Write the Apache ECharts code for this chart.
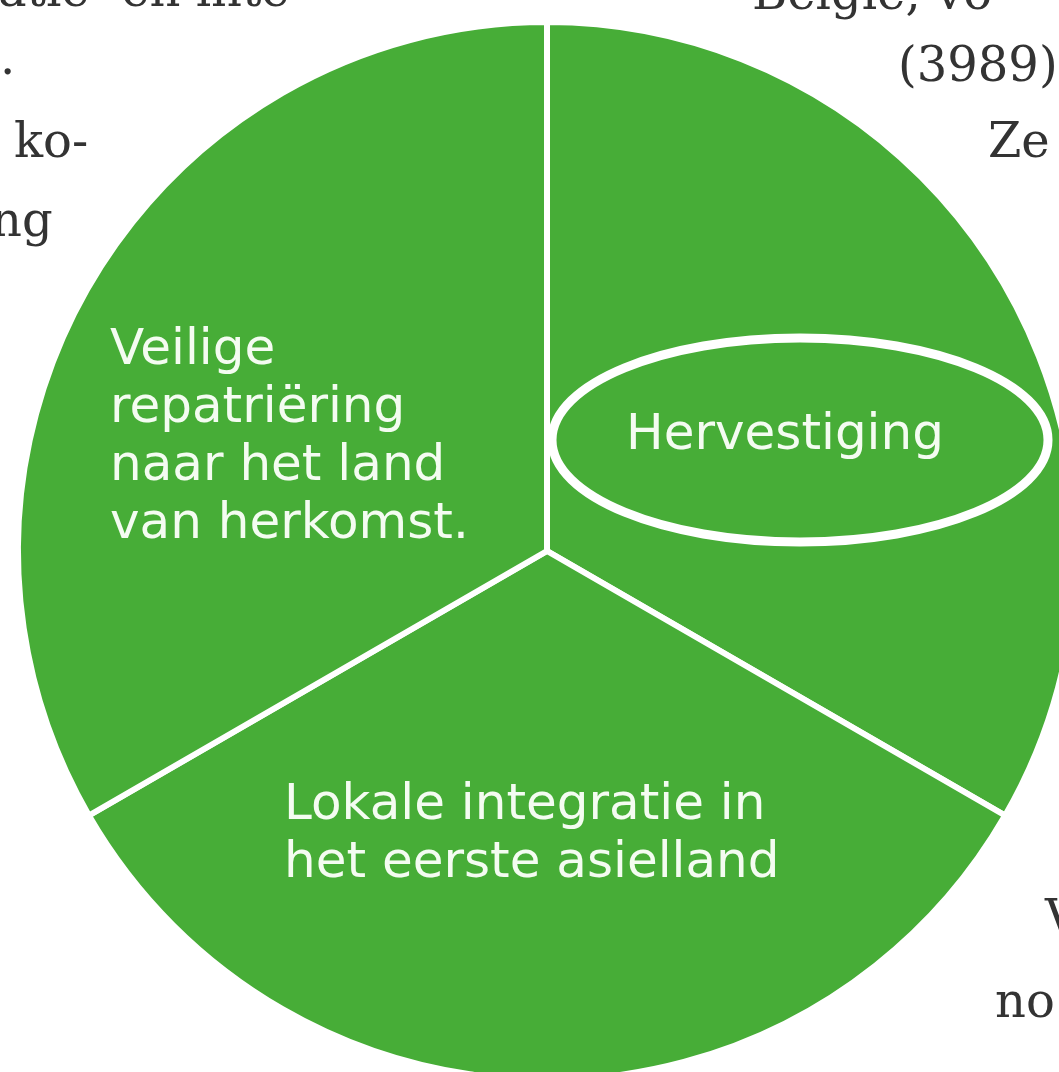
<!DOCTYPE html>
<html>
<head>
<meta charset="utf-8">
<title>Duurzame oplossingen</title>
<script src="https://cdn.jsdelivr.net/npm/echarts@6/dist/echarts.min.js"></script>
<style>
  html, body { margin: 0; padding: 0; background: #fff; }
  #main { width: 1059px; height: 1072px; }
</style>
</head>
<body>
<div id="main"></div>
<script>
// drie gelijke delen
let oplossingen = [
  'Hervestiging',
  'Lokale integratie in\nhet eerste asielland',
  'Veilige\nrepatriëring\nnaar het land\nvan herkomst.'
];
let aandeel = [1, 1, 1];

// plek van de labels (x, y = midden van het tekstblok)
const labelPos = [
  { x: 785, y: 436, align: 'center' },
  { x: 284, y: 835, align: 'left' },
  { x: 110, y: 438, align: 'left' }
];

const groen = '#47ad37';
const serif = '"DejaVu Serif", "Liberation Serif", serif';

// tekstflarden van de pagina rondom de cirkel (y = onderkant)
const achtergrond = [
  { text: 'atie- en inte', x: -2, y: 18 },
  { text: '.', x: 0, y: 86 },
  { text: 'België, vo', x: 752, y: 21 },
  { text: '(3989)', x: 898, y: 93 },
  { text: 'Ze', x: 988, y: 169 },
  { text: 'ko-', x: 14, y: 169 },
  { text: 'ng', x: -9, y: 248 },
  { text: 'V', x: 1045, y: 946 },
  { text: 'no', x: 995, y: 1029 }
];

const chart = echarts.init(document.getElementById('main'));
chart.setOption({
  backgroundColor: '#fff',
  animation: false,
  graphic: achtergrond.map(function (t) {
    return {
      type: 'text',
      x: t.x,
      y: t.y,
      z: 0,
      style: {
        text: t.text,
        fill: '#333',
        font: '48px ' + serif,
        align: 'left',
        verticalAlign: 'bottom'
      }
    };
  }).concat([
    {
      // ring om "Hervestiging"
      type: 'ellipse',
      z: 100,
      shape: { cx: 800, cy: 440, rx: 248, ry: 102 },
      style: { fill: 'none', stroke: '#fff', lineWidth: 9 }
    }
  ]),
  series: [
    {
      type: 'pie',
      center: [547, 551],
      radius: [0, 529],
      startAngle: 90,
      clockwise: true,
      silent: true,
      color: [groen],
      itemStyle: {
        color: groen,
        borderColor: '#fff',
        borderWidth: 6
      },
      label: {
        show: true,
        position: 'inside',
        color: '#f4fcf1',
        fontFamily: '"DejaVu Sans", sans-serif',
        fontWeight: 'normal',
        fontSize: 50,
        lineHeight: 58,
        formatter: '{b}'
      },
      labelLine: { show: false },
      labelLayout: function (params) {
        const p = labelPos[params.dataIndex];
        return { x: p.x, y: p.y, align: p.align, verticalAlign: 'middle' };
      },
      data: oplossingen.map(function (naam, i) {
        return { name: naam, value: aandeel[i] };
      })
    }
  ]
});
</script>
</body>
</html>
